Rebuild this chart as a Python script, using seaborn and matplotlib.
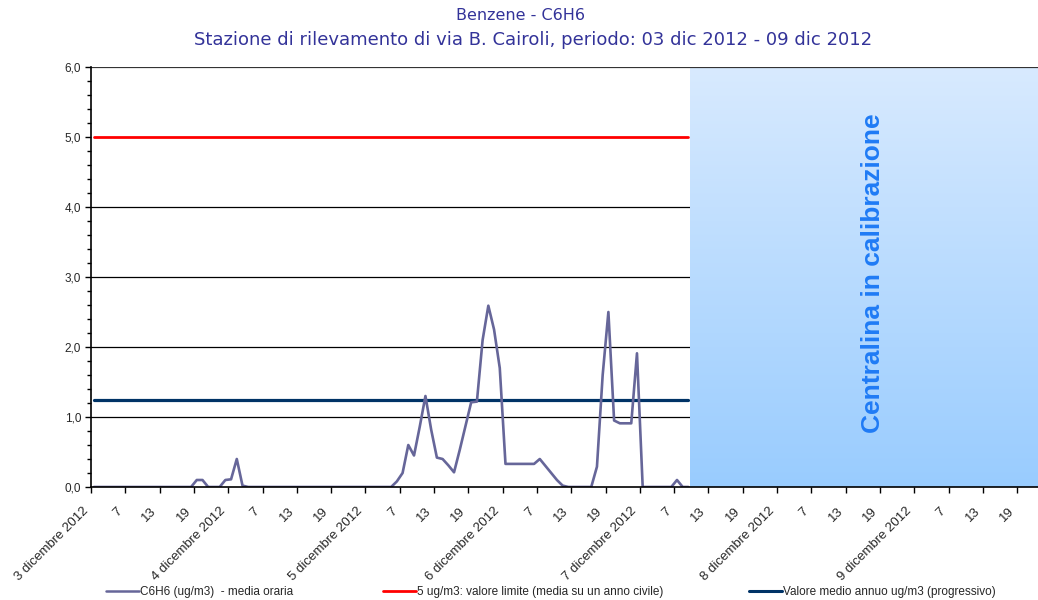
import matplotlib
matplotlib.use("Agg")
import matplotlib.pyplot as plt
import matplotlib.transforms as mtransforms
import numpy as np
import pandas as pd
import seaborn as sns
from matplotlib.colors import LinearSegmentedColormap
from matplotlib.lines import Line2D

# valori orari C6H6 (ug/m3), dal 3 dic 2012 ore 1 in poi
benzene = [
    0, 0, 0, 0, 0, 0, 0, 0, 0, 0, 0, 0, 0, 0, 0, 0, 0, 0,      # 0-17
    0.1, 0.1, 0, 0, 0,                                           # 18-22
    0.1, 0.11, 0.4, 0.02, 0,                                     # 23-27
    0, 0, 0, 0, 0, 0, 0, 0, 0, 0, 0, 0, 0, 0, 0, 0, 0, 0, 0, 0,  # 28-47
    0, 0, 0, 0, 0,                                               # 48-52
    0.08, 0.2, 0.6, 0.45, 0.86, 1.3, 0.82, 0.42, 0.4, 0.31,      # 53-62
    0.21, 0.53, 0.87, 1.21, 1.22, 2.1, 2.59, 2.25, 1.7, 0.33,    # 63-72
    0.33, 0.33, 0.33, 0.33, 0.33, 0.4, 0.3, 0.2, 0.1, 0.02,      # 73-82
    0, 0, 0, 0, 0, 0.29, 1.6, 2.5, 0.95, 0.91,                   # 83-92
    0.91, 0.91, 1.91, 0, 0, 0, 0, 0, 0, 0.1,                     # 93-102
    0, 0,                                                        # 103-104
]
limite = 5.0          # valore limite annuo
media_annua = 1.25    # valore medio annuo progressivo
n_valid = 105         # ore prima della calibrazione
calib_start = 104.7
n_hours = 168

giorni = [3, 4, 5, 6, 7, 8, 9]
ore_tick = ["7", "13", "19"]

titolo1 = "Benzene - C6H6"
titolo2 = "Stazione di rilevamento di via B. Cairoli, periodo: 03 dic 2012 - 09 dic 2012"
legenda = ["C6H6 (ug/m3)  - media oraria",
           "5 ug/m3: valore limite (media su un anno civile)",
           "Valore medio annuo ug/m3 (progressivo)"]

col_dati = "#666699"
col_limite = "#ff0000"
col_media = "#003366"
col_titolo = "#333399"


def main():
    sns.set_style("white")
    plt.rcParams["font.family"] = ["Liberation Sans", "DejaVu Sans"]

    x = np.arange(len(benzene)) + 0.5
    xc = np.arange(n_valid) + 0.5
    df = pd.DataFrame({"ora": x, "valore": benzene})
    dc = pd.DataFrame({"ora": xc,
                       "limite": [limite] * n_valid,
                       "media": [media_annua] * n_valid})

    fig = plt.figure(figsize=(10.38, 6.0), dpi=100)
    ax = fig.add_axes([91 / 1038, 113 / 600, (1038 - 91) / 1038, 420 / 600])

    # griglia orizzontale
    for v in [1, 2, 3, 4]:
        ax.axhline(v, color="black", lw=0.9, zorder=1)

    sns.lineplot(data=dc, x="ora", y="limite", ax=ax, color=col_limite, lw=2.0, zorder=2)
    sns.lineplot(data=dc, x="ora", y="media", ax=ax, color=col_media, lw=2.3, zorder=2)
    sns.lineplot(data=df, x="ora", y="valore", ax=ax, color=col_dati, lw=1.9, zorder=3)

    # area "centralina in calibrazione" con sfumatura
    cmap = LinearSegmentedColormap.from_list("calib", ["#d8eafe", "#99ccff"])
    grad = np.linspace(0, 1, 256).reshape(-1, 1)
    ax.imshow(grad, cmap=cmap, extent=(calib_start, n_hours + 10, 0, 6),
              origin="upper", aspect="auto", zorder=4)
    ax.text((calib_start + 165.6) / 2 + 1.6, 3.05, "Centralina in calibrazione",
            rotation=90, ha="center", va="center", fontsize=19, fontweight="bold",
            color="#1f7bf5", zorder=5)

    ax.axhline(6, color="#333333", lw=1.6, zorder=6)

    ax.set_xlim(0, (1038 - 91) / 5.717)
    ax.set_ylim(0, 6)

    ticks = np.arange(0, n_hours, 6)
    labels = []
    for g in giorni:
        labels.append(f"{g} dicembre 2012")
        labels.extend(ore_tick)
    ax.set_xticks(ticks)
    ax.set_xticklabels(labels, rotation=45, ha="right", rotation_mode="anchor",
                       fontsize=9.5)
    ax.set_yticks(np.arange(0, 6.01, 1))
    ax.set_yticklabels([f"{v:.1f}".replace(".", ",") for v in np.arange(0, 6.01, 1)],
                       fontsize=8.5)
    ax.set_yticks(np.arange(0, 6.01, 0.2), minor=True)
    ax.tick_params(axis="both", which="both", direction="out", length=4, width=1,
                   color="black", bottom=True, left=True, pad=3)
    ax.tick_params(axis="x", which="major", pad=9)
    ax.tick_params(axis="y", which="minor", length=3)
    # sposta le etichette dell'asse x un po' a sinistra (dopo tick_params)
    shift = mtransforms.ScaledTranslation(-9 / 100, 0, fig.dpi_scale_trans)
    for tk in ax.xaxis.get_major_ticks():
        tk.label1.set_transform(tk.label1.get_transform() + shift)
    ax.set_xlabel("")
    ax.set_ylabel("")

    for s in ["top", "right"]:
        ax.spines[s].set_visible(False)
    for s in ["left", "bottom"]:
        ax.spines[s].set_color("black")
        ax.spines[s].set_linewidth(1.2)
        ax.spines[s].set_zorder(7)

    fig.text(521 / 1038, 1 - 16 / 600, titolo1, ha="center", va="center",
             color=col_titolo, fontsize=11.5, family="DejaVu Sans")
    fig.text(533 / 1038, 1 - 40 / 600, titolo2, ha="center", va="center",
             color=col_titolo, fontsize=13, family="DejaVu Sans")

    # legenda in basso, tre voci separate
    voci = [(legenda[0], col_dati, 1.8, 106),
            (legenda[1], col_limite, 2.0, 383),
            (legenda[2], col_media, 2.2, 749)]
    for testo, col, lw, px in voci:
        h = Line2D([], [], color=col, lw=lw)
        fig.legend([h], [testo], loc="center left",
                   bbox_to_anchor=(px / 1038, 1 - 592 / 600), frameon=False,
                   fontsize=8.5, handlelength=2.8, handletextpad=0.1,
                   borderpad=0, borderaxespad=0)

    fig.savefig("out.png", dpi=100)


if __name__ == "__main__":
    main()
